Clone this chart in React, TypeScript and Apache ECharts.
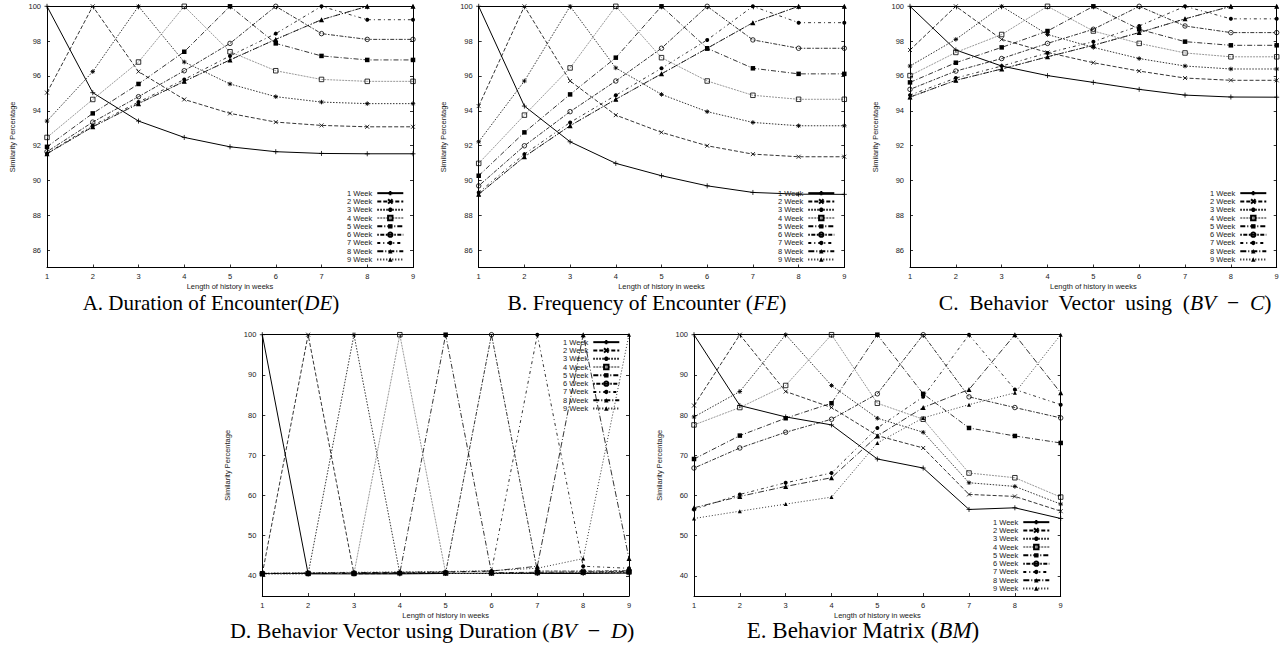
import React, { useEffect, useRef } from "react";
import * as echarts from "echarts";

// ---------- data ----------
const WEEKS = [1, 2, 3, 4, 5, 6, 7, 8, 9];
const SERIES_NAMES = ["1 Week", "2 Week", "3 Week", "4 Week", "5 Week", "6 Week", "7 Week", "8 Week", "9 Week"];
const X_AXIS_NAME = "Length of history in weeks";
const Y_AXIS_NAME = "Similarity Percentage";
const Y_TICKS_TOP = [86, 88, 90, 92, 94, 96, 98, 100];
const Y_TICKS_BOTTOM = [40, 50, 60, 70, 80, 90, 100];

// A. Duration of Encounter (one row per series "1 Week" .. "9 Week")
const DE_VALUES = [
  [100, 95.04, 93.41, 92.47, 91.93, 91.65, 91.55, 91.53, 91.53],
  [95.04, 100, 96.25, 94.65, 93.85, 93.35, 93.16, 93.08, 93.08],
  [93.41, 96.25, 100, 96.8, 95.54, 94.81, 94.5, 94.41, 94.41],
  [92.47, 94.65, 96.8, 100, 97.39, 96.3, 95.8, 95.69, 95.69],
  [91.93, 93.85, 95.54, 97.39, 100, 97.87, 97.15, 96.92, 96.92],
  [91.65, 93.35, 94.81, 96.3, 97.87, 100, 98.43, 98.1, 98.1],
  [91.55, 93.16, 94.5, 95.8, 97.15, 98.43, 100, 99.23, 99.23],
  [91.53, 93.08, 94.41, 95.69, 96.92, 98.1, 99.23, 100, 100],
  [91.53, 93.08, 94.41, 95.69, 96.92, 98.1, 99.23, 100, 100],
];

// B. Frequency of Encounter
const FE_VALUES = [
  [100, 94.27, 92.22, 90.98, 90.27, 89.69, 89.31, 89.21, 89.2],
  [94.27, 100, 95.71, 93.75, 92.76, 91.99, 91.51, 91.36, 91.36],
  [92.22, 95.71, 100, 96.46, 94.94, 93.95, 93.33, 93.14, 93.14],
  [90.98, 93.75, 96.46, 100, 97.05, 95.71, 94.89, 94.66, 94.66],
  [90.27, 92.76, 94.94, 97.05, 100, 97.59, 96.44, 96.12, 96.12],
  [89.69, 91.99, 93.95, 95.71, 97.59, 100, 98.07, 97.59, 97.59],
  [89.31, 91.51, 93.33, 94.89, 96.44, 98.07, 100, 99.06, 99.06],
  [89.21, 91.36, 93.14, 94.66, 96.12, 97.59, 99.06, 100, 100],
  [89.2, 91.36, 93.14, 94.66, 96.12, 97.59, 99.06, 100, 100],
];

// C. Behavior Vector using (BV - C)
const BVC_VALUES = [
  [100, 97.49, 96.57, 96.02, 95.63, 95.23, 94.9, 94.79, 94.78],
  [97.49, 100, 98.1, 97.35, 96.76, 96.28, 95.88, 95.75, 95.75],
  [96.57, 98.1, 100, 98.38, 97.64, 97.0, 96.57, 96.4, 96.4],
  [96.02, 97.35, 98.38, 100, 98.58, 97.87, 97.32, 97.1, 97.1],
  [95.63, 96.76, 97.64, 98.58, 100, 98.68, 97.97, 97.76, 97.76],
  [95.23, 96.28, 97.0, 97.87, 98.68, 100, 98.87, 98.49, 98.49],
  [94.9, 95.88, 96.57, 97.32, 97.97, 98.87, 100, 99.28, 99.28],
  [94.79, 95.75, 96.4, 97.1, 97.76, 98.49, 99.28, 100, 100],
  [94.78, 95.75, 96.4, 97.1, 97.76, 98.49, 99.28, 100, 100],
];

// D. Behavior Vector using Duration (BV - D)
const BVD_VALUES = [
  [100, 40.5, 40.5, 40.5, 40.6, 40.6, 40.6, 40.6, 40.7],
  [40.5, 100, 40.5, 40.6, 40.6, 40.6, 40.7, 40.7, 40.8],
  [40.5, 40.5, 100, 40.6, 40.6, 40.7, 40.7, 40.8, 40.9],
  [40.5, 40.6, 40.6, 100, 40.7, 40.7, 40.8, 40.9, 41.0],
  [40.6, 40.6, 40.6, 40.7, 100, 40.8, 40.9, 41.0, 41.1],
  [40.6, 40.6, 40.7, 40.7, 40.8, 100, 41.2, 41.2, 41.3],
  [40.6, 40.7, 40.7, 40.8, 40.9, 41.2, 100, 42.4, 41.9],
  [40.6, 40.7, 40.8, 40.9, 41.0, 41.2, 42.4, 100, 44.3],
  [40.7, 40.8, 40.9, 41.0, 41.1, 41.3, 41.9, 44.3, 100],
];

// E. Behavior Matrix (BM)
const BM_VALUES = [
  [100, 82.38, 79.55, 77.56, 69.08, 66.83, 56.53, 56.94, 54.28],
  [82.38, 100, 85.87, 81.88, 74.9, 71.82, 60.27, 59.77, 56.1],
  [79.55, 85.87, 100, 87.37, 79.22, 75.73, 63.17, 62.26, 57.86],
  [77.56, 81.88, 87.37, 100, 82.95, 78.97, 65.59, 64.42, 59.6],
  [69.08, 74.9, 79.22, 82.95, 100, 85.29, 76.8, 74.81, 73.07],
  [66.83, 71.82, 75.73, 78.97, 85.29, 100, 84.54, 81.88, 79.3],
  [56.53, 60.27, 63.17, 65.59, 76.8, 84.54, 100, 86.37, 82.6],
  [56.94, 59.77, 62.26, 64.42, 74.81, 81.88, 86.37, 100, 85.54],
  [54.28, 56.1, 57.86, 59.6, 73.07, 79.3, 82.6, 85.54, 100],
];

const NB = "\u00a0";
const CAPTIONS = [
  "{n|A. Duration of Encounter(}{i|DE}{n|)}",
  "{n|B. Frequency of Encounter (}{i|FE}{n|)}",
  `{n|C.${NB} Behavior${NB} Vector${NB} using${NB} (}{i|BV}{n|${NB} − ${NB}}{i|C}{n|)}`,
  `{n|D. Behavior Vector using Duration (}{i|BV}{n|${NB} − ${NB}}{i|D}{n|)}`,
  "{n|E. Behavior Matrix (}{i|BM}{n|)}",
];

// ---------- styles / layout ----------
const SANS = "'Liberation Sans', Arial, Helvetica, sans-serif";
const SERIF = "'Liberation Serif', 'Times New Roman', serif";

const PLUS = "path://M0,5L10,5M5,0L5,10";
const CROSS = "path://M0,0L10,10M10,0L0,10";
const STAR = "path://M0,5L10,5M5,0L5,10M1.5,1.5L8.5,8.5M8.5,1.5L1.5,8.5";
const OSQUARE = "path://M0,0L10,0L10,10L0,10Z";
const OCIRCLE = "path://M0,5A5,5,0,1,1,10,5A5,5,0,1,1,0,5Z";
const NONE = "rgba(0,0,0,0)";

const LINE_STYLES: any[] = [
  { symbol: PLUS, size: 5, line: "#000", type: "solid", width: 1, fill: "#000", bw: 0.8 },
  { symbol: CROSS, size: 4, line: "#000", type: [4, 2], width: 0.8, fill: "#000", bw: 0.8 },
  { symbol: STAR, size: 4.5, line: "#000", type: [1.5, 1.5], width: 0.8, fill: "#000", bw: 0.9 },
  { symbol: OSQUARE, size: 4.5, line: "#8c8c8c", type: [2, 1], width: 0.9, fill: NONE, bw: 0.8 },
  { symbol: "rect", size: 4.5, line: "#000", type: [5, 2, 1, 2], width: 0.8, fill: "#000", bw: 0 },
  { symbol: OCIRCLE, size: 4.5, line: "#000", type: [1.5, 1.5, 4, 1.5], width: 0.8, fill: NONE, bw: 0.8 },
  { symbol: "circle", size: 4, line: "#000", type: [3, 3, 1, 3], width: 0.8, fill: "#000", bw: 0 },
  { symbol: "triangle", size: 5, line: "#000", type: [6, 2, 1, 2], width: 0.8, fill: "#000", bw: 0 },
  { symbol: "triangle", size: 4, line: "#000", type: [1, 2], width: 0.8, fill: "#000", bw: 0 },
];

const PANELS = [
  { values: DE_VALUES, left: 47, top: 6.3, width: 366, height: 261.2, yMin: 85, yTicks: Y_TICKS_TOP, legendLeft: 347, legendTop: 189, capX: 211, capY: 302.5, capSize: 21 },
  { values: FE_VALUES, left: 478.7, top: 6.3, width: 365.6, height: 261.2, yMin: 85, yTicks: Y_TICKS_TOP, legendLeft: 778, legendTop: 189, capX: 647, capY: 302.5, capSize: 21.5 },
  { values: BVC_VALUES, left: 910, top: 6.3, width: 366.7, height: 261.2, yMin: 85, yTicks: Y_TICKS_TOP, legendLeft: 1210, legendTop: 189, capX: 1105, capY: 302.5, capSize: 21.5 },
  { values: BVD_VALUES, left: 262.3, top: 334.7, width: 366.7, height: 261.3, yMin: 35, yTicks: Y_TICKS_BOTTOM, legendLeft: 563, legendTop: 338, capX: 432, capY: 630.5, capSize: 22 },
  { values: BM_VALUES, left: 694, top: 334.7, width: 366.7, height: 261.3, yMin: 35, yTicks: Y_TICKS_BOTTOM, legendLeft: 993, legendTop: 518, capX: 863, capY: 630.5, capSize: 23 },
];

const SMALL = { color: "#222", fontSize: 7.5, fontFamily: SANS };

function buildOption() {
  const grid: any[] = [];
  const xAxis: any[] = [];
  const yAxis: any[] = [];
  const series: any[] = [];
  const legend: any[] = [];
  const graphic: any[] = [];

  PANELS.forEach((p, i) => {
    grid.push({ left: p.left, top: p.top, width: p.width, height: p.height, show: false });
    const axisLine = { show: true, onZero: false, lineStyle: { color: "#000", width: 1 } };
    const tick = { show: true, inside: true, length: 3, lineStyle: { color: "#000", width: 0.8 } };
    xAxis.push({
      type: "value", gridIndex: i, min: 1, max: 9, interval: 1, position: "bottom",
      axisLine, axisTick: tick, splitLine: { show: false },
      axisLabel: { ...SMALL, margin: 5 },
      name: X_AXIS_NAME, nameLocation: "middle", nameGap: 15,
      nameTextStyle: { ...SMALL, lineHeight: 8 },
    });
    xAxis.push({
      type: "value", gridIndex: i, min: 1, max: 9, interval: 1, position: "top",
      axisLine, axisTick: tick, splitLine: { show: false }, axisLabel: { show: false },
    });
    yAxis.push({
      type: "value", gridIndex: i, min: p.yMin, max: 100, position: "left",
      axisLine, axisTick: { ...tick, customValues: p.yTicks }, splitLine: { show: false },
      axisLabel: { ...SMALL, margin: 6, customValues: p.yTicks },
      name: Y_AXIS_NAME, nameLocation: "middle", nameGap: 31, nameRotate: 90, nameTextStyle: { ...SMALL },
    });
    yAxis.push({
      type: "value", gridIndex: i, min: p.yMin, max: 100, position: "right",
      axisLine, axisTick: { ...tick, customValues: p.yTicks }, splitLine: { show: false },
      axisLabel: { show: false },
    });

    p.values.forEach((row, k) => {
      const st = LINE_STYLES[k];
      series.push({
        type: "line",
        name: SERIES_NAMES[k],
        xAxisIndex: i * 2,
        yAxisIndex: i * 2,
        data: WEEKS.map((w, j) => [w, row[j]]),
        symbol: st.symbol,
        symbolSize: st.size,
        showAllSymbol: true,
        lineStyle: { color: st.line, width: st.width, type: st.type },
        itemStyle: { color: st.fill, borderColor: "#000", borderWidth: st.bw },
        emphasis: { disabled: true },
        silent: true,
      });
    });

    legend.push({
      orient: "vertical", left: p.legendLeft, top: p.legendTop, align: "right",
      itemWidth: 26, itemHeight: 5.5, itemGap: 0, padding: 0, selectedMode: false,
      data: SERIES_NAMES, textStyle: { ...SMALL, lineHeight: 8.3 },
    });

    graphic.push({
      type: "text", x: p.capX, y: p.capY, silent: true,
      style: {
        text: CAPTIONS[i], align: "center", verticalAlign: "middle",
        fill: "#000", font: `${p.capSize}px ${SERIF}`, lineHeight: p.capSize,
        rich: {
          n: { fontSize: p.capSize, lineHeight: p.capSize, fontFamily: SERIF, fill: "#000" },
          i: { fontSize: p.capSize, lineHeight: p.capSize, fontFamily: SERIF, fontStyle: "italic", fill: "#000" },
        },
      },
    });
  });

  return { animation: false, backgroundColor: "#fff", grid, xAxis, yAxis, series, legend, graphic };
}

export default function App() {
  const ref = useRef<HTMLDivElement>(null);
  useEffect(() => {
    const chart = echarts.init(ref.current!, null, { renderer: "svg" });
    chart.setOption(buildOption());
    return () => chart.dispose();
  }, []);
  return (
    <div
      ref={ref}
      style={{ position: "absolute", left: 0, top: 0, width: 1288, height: 645, background: "#fff" }}
    />
  );
}
